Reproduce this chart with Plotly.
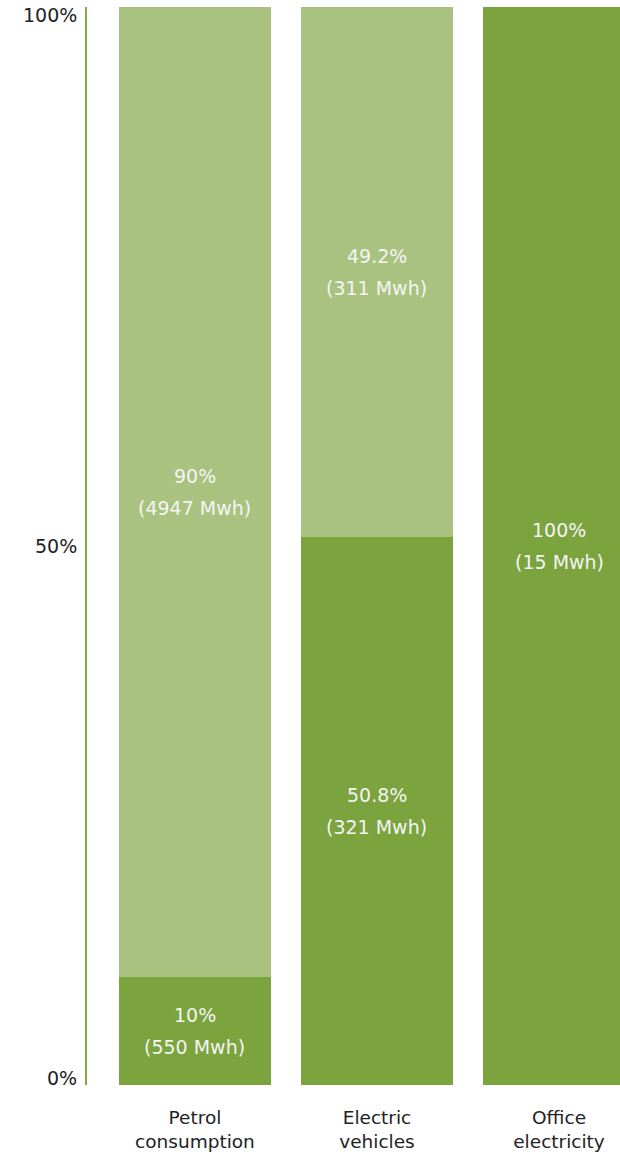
import plotly.graph_objects as go

categories = ["Petrol<br>consumption", "Electric<br>vehicles", "Office<br>electricity"]
dark_pct = [10, 50.8, 100]
light_pct = [90, 49.2, 0]
dark_mwh = [550, 321, 15]
light_mwh = [4947, 311, 0]
ytick_vals = [0, 50, 100]
ytick_text = ["0%", "50%", "100%"]

DARK = "#7BA33E"
LIGHT = "#AAC27F"
FONT = "'DejaVu Sans', sans-serif"
FS_BAR = 19
FS_AX = 18.5

fig = go.Figure()
fig.add_trace(go.Bar(x=categories, y=dark_pct, marker=dict(color=DARK, line=dict(width=0)),
                     width=0.835, hoverinfo="skip"))
fig.add_trace(go.Bar(x=categories, y=light_pct, marker=dict(color=LIGHT, line=dict(width=0)),
                     width=0.835, hoverinfo="skip"))

def fmt(p):
    return (f"{p:.1f}" if p != int(p) else f"{int(p)}") + "%"

annotations = []
for i, c in enumerate(categories):
    segs = [(0, dark_pct[i], dark_mwh[i]), (dark_pct[i], light_pct[i], light_mwh[i])]
    for base, p, m in segs:
        if p <= 0:
            continue
        mid = base + p / 2
        annotations.append(dict(x=c, y=mid, xref="x", yref="y", text=fmt(p), showarrow=False,
                                yshift=16, font=dict(size=FS_BAR, color="#F4F4F4", family=FONT)))
        annotations.append(dict(x=c, y=mid, xref="x", yref="y", text=f"({m} Mwh)", showarrow=False,
                                yshift=-16, font=dict(size=FS_BAR, color="#F4F4F4", family=FONT)))

shifts = {0: 7, 50: 0, 100: -8}
for v, t in zip(ytick_vals, ytick_text):
    annotations.append(dict(x=0, y=v, xref="paper", yref="y", text=t, showarrow=False,
                            xanchor="right", xshift=-8, yshift=shifts[v],
                            font=dict(size=FS_BAR, color="#222222", family=FONT)))

fig.update_layout(
    barmode="stack",
    width=620, height=1154,
    margin=dict(l=87, r=0, t=7, b=69),
    paper_bgcolor="white", plot_bgcolor="white",
    showlegend=False,
    bargap=0,
    annotations=annotations,
    font=dict(family=FONT, size=FS_AX, color="#222222"),
    xaxis=dict(range=[-0.593, 2.335], showgrid=False, zeroline=False, showline=False,
               ticks="", ticklabelstandoff=19,
               tickfont=dict(size=FS_AX, color="#222222", family=FONT), fixedrange=True),
    yaxis=dict(range=[0, 100], showgrid=False, zeroline=False, showline=True,
               linecolor="#82AB48", linewidth=2, ticks="", showticklabels=False, fixedrange=True),
)

fig.write_html("out.html")
